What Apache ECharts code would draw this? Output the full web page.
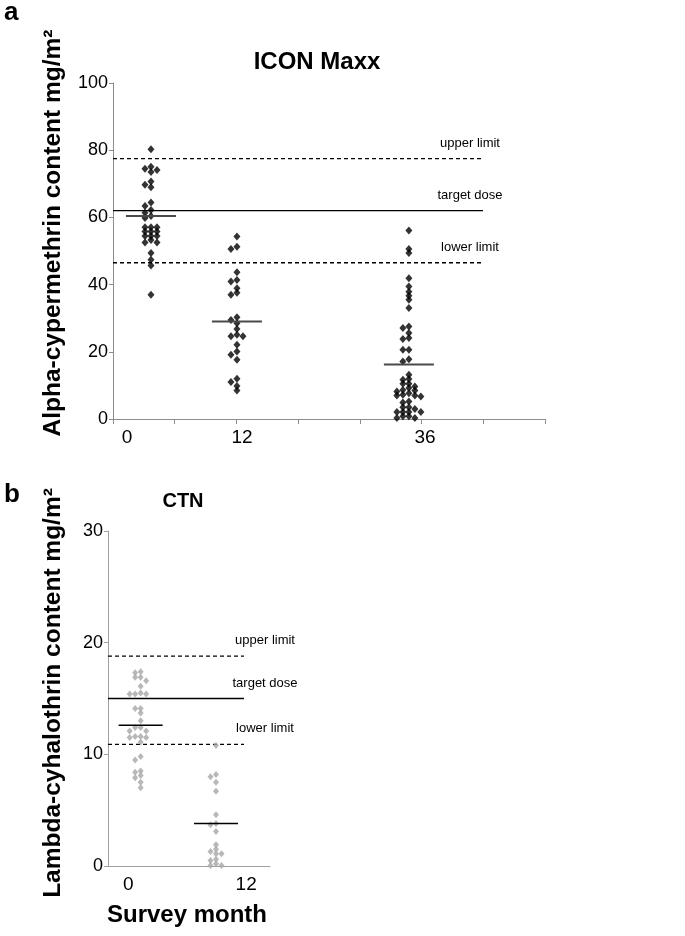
<!DOCTYPE html>
<html><head><meta charset="utf-8">
<script src="https://cdn.jsdelivr.net/npm/echarts@6/dist/echarts.min.js"></script>
<style>html,body{margin:0;padding:0;background:#fff}#c{width:685px;height:936px}</style>
</head><body><div id="c"></div>
<script>
// ---------- Panel a : ICON Maxx (alpha-cypermethrin, mg/m2) ----------
const monthsA = [0, 12, 36];
const icon0 = [80.3, 75.1, 74.5, 74.1, 73.5, 70.7, 69.7, 69.0, 64.4, 63.4, 62.2, 61.4, 60.4, 59.8,
  57.1, 57.1, 57.1, 55.8, 55.8, 55.8, 54.5, 54.5, 54.5, 53.3, 52.5, 52.5, 49.4, 47.4, 45.7, 37.0];
const icon12 = [54.3, 51.3, 50.6, 43.7, 41.4, 40.9, 38.9, 37.6, 37.0, 30.3, 29.5, 28.5, 26.8,
  25.1, 24.6, 24.6, 22.1, 20.1, 19.1, 17.6, 12.0, 11.0, 9.8, 8.5];
const icon36 = [56.1, 50.6, 49.4, 41.9, 39.4, 37.9, 36.7, 35.5, 33.0, 27.5, 27.1, 25.6, 24.1, 23.8,
  20.6, 20.6, 17.8, 17.1, 13.2, 11.9, 11.7, 10.5, 10.5, 9.7, 9.2, 8.6, 8.5, 8.2, 7.7, 7.2, 7.0, 7.0,
  6.7, 5.2, 4.9, 3.5, 3.5, 3.0, 2.1, 2.1, 2.1, 2.1, 0.8, 0.8, 0.3, 0.3];
const iconMeans = [60.4, 29.0, 16.2];
const iconRefNames = ['upper limit', 'target dose', 'lower limit'];
const iconRefValues = [77.5, 62, 46.5];
const xLabelsA = ['0', '12', '36'];
const xLabelPosA = [-3.35, 12.7, 38.25];

// ---------- Panel b : CTN (lambda-cyhalothrin, mg/m2) ----------
const monthsB = [0, 12];
const ctn0 = [17.4, 17.3, 16.9, 16.9, 16.6, 16.1, 15.5, 15.4, 15.4, 15.4, 14.1, 14.1, 13.7, 13.0,
  12.4, 12.4, 12.1, 12.1, 11.6, 11.6, 11.5, 11.5, 11.1, 9.8, 9.5, 8.5, 8.4, 8.1, 7.9, 7.5, 7.0];
const ctn12 = [10.8, 8.2, 8.0, 7.5, 6.7, 4.6, 3.8, 3.7, 3.1, 1.9, 1.5, 1.3, 1.1, 1.1, 0.6, 0.5, 0.2, 0.05, 0.05];
const ctnMeans = [12.6, 3.8];
const ctnRefNames = ['upper limit', 'target dose', 'lower limit'];
const ctnRefValues = [18.8, 15, 10.9];
const xLabelsB = ['0', '12'];
const xLabelPosB = [-1.97, 16.8];

// ---------- layout ----------
const GA = {left: 113, top: 83, width: 432, height: 336, xmin: -5.3, xmax: 55, ymax: 100};
const GB = {left: 108, top: 531, width: 162, height: 335, xmin: -5.2, xmax: 20.6, ymax: 30};
const pxA = GA.width / (GA.xmax - GA.xmin), pyA = GA.height / GA.ymax;
const pxB = GB.width / (GB.xmax - GB.xmin), pyB = GB.height / GB.ymax;

// deterministic beeswarm dodge
function dodge(values, center, colW, thr) {
  const placed = [];
  const order = [0, -1, 1, -2, 2, -3, 3, -4, 4];
  return values.map(v => {
    for (const k of order) {
      if (!placed.some(p => p.k === k && Math.abs(p.v - v) < thr)) {
        placed.push({k, v});
        return [center + k * colW, v];
      }
    }
    return [center, v];
  });
}
function nearestLabel(v, pos, labels) {
  let bi = 0;
  pos.forEach((p, i) => { if (Math.abs(p - v) < Math.abs(pos[bi] - v)) bi = i; });
  return labels[bi];
}

const series = [];
// scatter panel a
[icon0, icon12, icon36].forEach((vals, i) => {
  series.push({type: 'scatter', xAxisIndex: 0, yAxisIndex: 0, symbol: 'diamond', symbolSize: [7, 8],
    itemStyle: {color: '#000'}, silent: true,
    data: dodge(vals, monthsA[i], 6 / pxA, 4 / pyA)});
});
// scatter panel b
[ctn0, ctn12].forEach((vals, i) => {
  series.push({type: 'scatter', xAxisIndex: 1, yAxisIndex: 1, symbol: 'diamond', symbolSize: [6, 7],
    itemStyle: {color: '#a6a6a6'}, silent: true,
    data: dodge(vals, monthsB[i], 5.5 / pxB, 4 / pyB)});
});
// reference lines
function refLines(vals, names, ax, x0, x1, labOff, fs) {
  vals.forEach((v, i) => {
    series.push({type: 'line', xAxisIndex: ax, yAxisIndex: ax, symbol: 'circle', symbolSize: 0,
      silent: true, z: 1,
      lineStyle: {color: '#000', width: 1.3, type: i === 1 ? 'solid' : [4, 3]},
      data: [[x0, v], {value: [x1, v], label: {show: true, position: 'top', offset: labOff,
        formatter: names[i], color: '#000', fontSize: fs, fontFamily: 'Liberation Sans'}}]});
  });
}
refLines(iconRefValues, iconRefNames, 0, GA.xmin, GA.xmin + (483 - GA.left) / pxA, [-13, -4], 13);
refLines(ctnRefValues, ctnRefNames, 1, GB.xmin, GB.xmin + (244 - GB.left) / pxB, [21, -4], 13);
// mean lines
iconMeans.forEach((m, i) => {
  const h = 25 / pxA;
  series.push({type: 'line', xAxisIndex: 0, yAxisIndex: 0, symbol: 'none', silent: true, z: 3,
    lineStyle: {color: '#4a4a4a', width: 2}, data: [[monthsA[i] - h, m], [monthsA[i] + h, m]]});
});
ctnMeans.forEach((m, i) => {
  const h = 22 / pxB;
  series.push({type: 'line', xAxisIndex: 1, yAxisIndex: 1, symbol: 'none', silent: true, z: 3,
    lineStyle: {color: '#000', width: 1.5}, data: [[monthsB[i] - h, m], [monthsB[i] + h, m]]});
});

const tickValsA = [];
for (let k = 0; k <= 7; k++) tickValsA.push(GA.xmin + k * (GA.xmax - GA.xmin) / 7);

const font = 'Liberation Sans';
const option = {
  backgroundColor: '#fff',
  animation: false,
  grid: [
    {left: GA.left, top: GA.top, width: GA.width, height: GA.height},
    {left: GB.left, top: GB.top, width: GB.width, height: GB.height}
  ],
  xAxis: [
    {type: 'value', gridIndex: 0, min: GA.xmin, max: GA.xmax,
      axisLine: {onZero: false, lineStyle: {color: '#8c8c8c', width: 1}},
      axisTick: {show: true, customValues: tickValsA, length: 5, lineStyle: {color: '#8c8c8c'}},
      axisLabel: {customValues: xLabelPosA, formatter: v => nearestLabel(v, xLabelPosA, xLabelsA),
        color: '#000', fontSize: 19, fontFamily: font, margin: 9},
      splitLine: {show: false}},
    {type: 'value', gridIndex: 1, min: GB.xmin, max: GB.xmax,
      axisLine: {onZero: false, lineStyle: {color: '#a0a0a0', width: 1}},
      axisTick: {show: false},
      axisLabel: {customValues: xLabelPosB, formatter: v => nearestLabel(v, xLabelPosB, xLabelsB),
        color: '#000', fontSize: 19, fontFamily: font, margin: 9},
      splitLine: {show: false}}
  ],
  yAxis: [
    {type: 'value', gridIndex: 0, min: 0, max: 100, interval: 20,
      axisLine: {show: true, onZero: false, lineStyle: {color: '#8c8c8c', width: 1}},
      axisTick: {show: true, length: 4, lineStyle: {color: '#8c8c8c'}},
      axisLabel: {color: '#000', fontSize: 18, fontFamily: font, margin: 5},
      splitLine: {show: false}},
    {type: 'value', gridIndex: 1, min: 0, max: 30, interval: 10,
      axisLine: {show: true, onZero: false, lineStyle: {color: '#a0a0a0', width: 1}},
      axisTick: {show: true, length: 4, lineStyle: {color: '#a0a0a0'}},
      axisLabel: {color: '#000', fontSize: 18, fontFamily: font, margin: 5},
      splitLine: {show: false}}
  ],
  graphic: [
    {type: 'text', x: 4, y: 0, style: {text: 'a', font: 'bold 26px "Liberation Sans"', fill: '#000'}},
    {type: 'text', x: 4, y: 482, style: {text: 'b', font: 'bold 26px "Liberation Sans"', fill: '#000'}},
    {type: 'text', x: 317, y: 62, style: {text: 'ICON Maxx', font: 'bold 24px "Liberation Sans"', fill: '#000',
      textAlign: 'center', textVerticalAlign: 'middle'}},
    {type: 'text', x: 183, y: 501, style: {text: 'CTN', font: 'bold 20px "Liberation Sans"', fill: '#000',
      textAlign: 'center', textVerticalAlign: 'middle'}},
    {type: 'text', x: 53, y: 233, rotation: Math.PI / 2, style: {text: 'Alpha-cypermethrin content mg/m²',
      font: 'bold 24.5px "Liberation Sans"', fill: '#000', textAlign: 'center', textVerticalAlign: 'middle'}},
    {type: 'text', x: 53, y: 693, rotation: Math.PI / 2, style: {text: 'Lambda-cyhalothrin content mg/m²',
      font: 'bold 24.5px "Liberation Sans"', fill: '#000', textAlign: 'center', textVerticalAlign: 'middle'}},
    {type: 'text', x: 187, y: 915, style: {text: 'Survey month', font: 'bold 24px "Liberation Sans"', fill: '#000',
      textAlign: 'center', textVerticalAlign: 'middle'}}
  ],
  series: series
};
const chart = echarts.init(document.getElementById('c'), null, {renderer: 'canvas'});
chart.setOption(option);
</script>
</body></html>
